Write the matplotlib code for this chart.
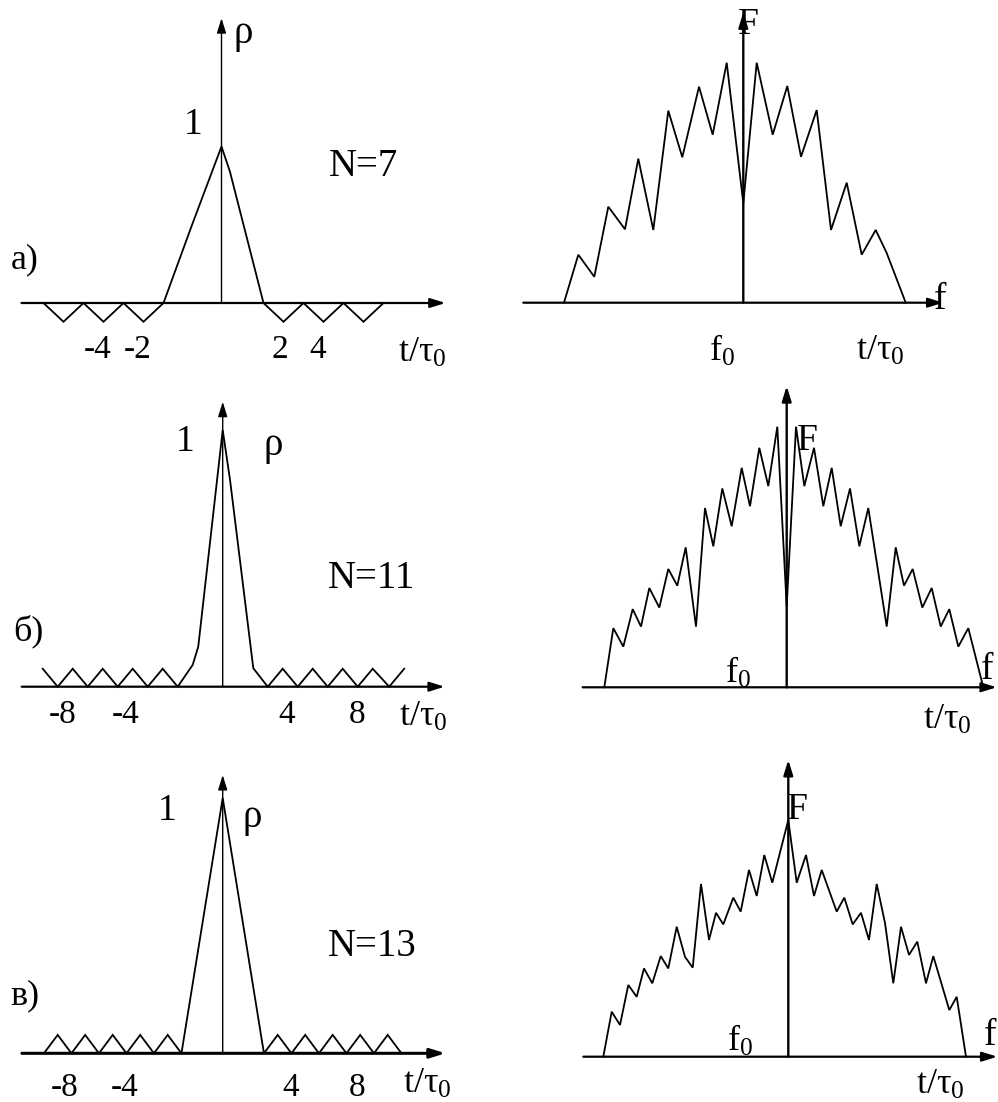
import matplotlib
matplotlib.use('Agg')
import matplotlib.pyplot as plt

plt.rcParams['font.family'] = ['Liberation Serif', 'DejaVu Serif']
plt.rcParams['mathtext.fontset'] = 'custom'
plt.rcParams['mathtext.rm'] = 'Liberation Serif'
plt.rcParams['mathtext.it'] = 'Liberation Serif:italic'

# ---------------- data ----------------
# autocorrelation functions rho(t/tau0)
acf7_t = [-8.9, -7.9, -6.9, -5.9, -4.9, -3.9, -2.9, -1.5, 0.0, 0.42, 2.1,
          3.1, 4.1, 5.1, 6.1, 7.1, 8.1]
acf7_rho = [0, -0.12, 0, -0.12, 0, -0.12, 0, 0.49, 1.0, 0.84, 0,
            -0.12, 0, -0.12, 0, -0.12, 0]
acf7_tick_pos = [-6.2, -4.2, 2.9, 4.8]
acf7_tick_lab = ['-4', '-2', '2', '4']

acf11_t = [-12, -11, -10, -9, -8, -7, -6, -5, -4, -3, -2, -1.63, 0, 0.49, 2.04,
           3, 4, 5, 6, 7, 8, 9, 10, 11.1, 12.1]
acf11_rho = [0.07, 0, 0.07, 0, 0.07, 0, 0.07, 0, 0.07, 0, 0.085, 0.156, 1.0, 0.805, 0.072,
             0, 0.07, 0, 0.07, 0, 0.07, 0, 0.07, 0, 0.07]
acf11_tick_pos = [-10.65, -6.5, 4.29, 8.95]
acf11_tick_lab = ['-8', '-4', '4', '8']

acf13_t = [-13, -12, -11, -10, -9, -8, -7, -6, -5, -4, -3, 0,
           3, 4, 5, 6, 7, 8, 9, 10, 11, 12, 13]
acf13_rho = [0, 0.072, 0, 0.072, 0, 0.072, 0, 0.072, 0, 0.072, 0, 1.0,
             0, 0.072, 0, 0.072, 0, 0.072, 0, 0.072, 0, 0.072, 0]
acf13_tick_pos = [-11.47, -7.1, 4.97, 9.76]
acf13_tick_lab = ['-8', '-4', '4', '8']

# spectra F(f - f0)
spec7_f = [-17.93, -16.5, -14.9, -13.5, -11.83, -10.5, -9.0, -7.5, -6.1, -4.43, -3.06, -1.66,
           0.0, 1.34, 2.94, 4.4, 5.77, 7.34, 8.77, 10.34, 11.84, 13.24, 14.34, 16.24]
spec7_F = [0, 0.2, 0.108, 0.4, 0.306, 0.6, 0.303, 0.8, 0.606, 0.9, 0.7, 1.0,
           0.414, 1.0, 0.7, 0.903, 0.608, 0.803, 0.303, 0.5, 0.2, 0.303, 0.207, 0]

spec11_f = [-18.24, -17.34, -16.34, -15.4, -14.57, -13.74, -12.74, -11.84, -10.94, -10.1,
            -9.07, -8.17, -7.34, -6.44, -5.5, -4.5, -3.67, -2.74, -1.84, -0.94,
            0.0, 0.93, 1.76, 2.73, 3.66, 4.5, 5.4, 6.33, 7.26, 8.16,
            10.0, 10.9, 11.73, 12.6, 13.56, 14.5, 15.4, 16.26, 17.16, 18.16, 19.66]
spec11_F = [0, 0.227, 0.156, 0.3, 0.233, 0.381, 0.306, 0.454, 0.39, 0.537,
            0.233, 0.688, 0.541, 0.763, 0.618, 0.842, 0.695, 0.919, 0.772, 1.0,
            0.31, 1.0, 0.772, 0.919, 0.695, 0.842, 0.618, 0.763, 0.541, 0.688,
            0.233, 0.537, 0.39, 0.454, 0.306, 0.381, 0.233, 0.3, 0.156, 0.227, 0]

spec13_f = [-18.5, -17.66, -16.83, -16.0, -15.16, -14.43, -13.6, -12.76, -12.0, -11.16,
            -10.33, -9.56, -8.73, -7.93, -7.23, -6.5, -5.5, -4.76, -3.93, -3.16,
            -2.4, -1.6, 0.0, 0.84, 1.77, 2.57, 3.34, 4.84, 5.6, 6.44,
            7.27, 8.07, 8.84, 9.67, 10.5, 11.27, 12.07, 12.9, 13.77, 14.5,
            16.1, 16.84, 17.77]
spec13_F = [0, 0.19, 0.134, 0.303, 0.253, 0.373, 0.31, 0.425, 0.373, 0.549,
            0.422, 0.376, 0.73, 0.493, 0.608, 0.559, 0.672, 0.613, 0.789, 0.679,
            0.852, 0.735, 1.0, 0.735, 0.852, 0.679, 0.789, 0.613, 0.672, 0.559,
            0.608, 0.493, 0.73, 0.565, 0.31, 0.549, 0.43, 0.486, 0.31, 0.425,
            0.197, 0.253, 0]

N_labels = ['N=7', 'N=11', 'N=13']
panel_letters = ['а)', 'б)', 'в)']

# ---------------- layout ----------------
W, H = 998, 1102
fig = plt.figure(figsize=(W / 100, H / 100), dpi=100)
fig.patch.set_facecolor('white')

DY = 3  # visual centring correction (pixels)


def make_ax(L, T, R, B, ox, oy, sx, sy):
    ax = fig.add_axes([L / W, 1 - B / H, (R - L) / W, (B - T) / H])
    ax.set_xlim((L - ox) / sx, (R - ox) / sx)
    ax.set_ylim((oy - B) / sy, (oy - T) / sy)
    ax.axis('off')
    return ax


def ptext(x, y, s, size, **kw):
    fig.text(x / W, 1 - (y + DY) / H, s, ha='center', va='center', fontsize=size,
             color='black', **kw)


def arrow(ax, x0, y0, x1, y1, lw):
    ax.annotate('', xy=(x1, y1), xytext=(x0, y0),
                arrowprops=dict(arrowstyle='-|>,head_length=0.9,head_width=0.28',
                                lw=lw, color='black', shrinkA=0, shrinkB=0),
                annotation_clip=False)


TAU = r'$\mathrm{t/\tau_0}$'
F0 = r'$\mathrm{f_0}$'

# left column : autocorrelation
left_specs = [
    dict(box=(0, 0, 470, 372), o=(221.5, 303), s=(20, 156.5), xr=(-10.0, 11.2), ytip=1.82, lw=1.6,
         t=acf7_t, r=acf7_rho, tp=acf7_tick_pos, tl=acf7_tick_lab, tick_y=347,
         one=(193, 122), rho=(243, 30), N=(363, 163), let=(25, 257), tau=(422, 350)),
    dict(box=(0, 380, 470, 740), o=(222.7, 686.7), s=(15, 256.7), xr=(-13.4, 14.8), ytip=1.11, lw=1.6,
         t=acf11_t, r=acf11_rho, tp=acf11_tick_pos, tl=acf11_tick_lab, tick_y=712,
         one=(185, 439), rho=(273, 443), N=(372, 576), let=(28, 628), tau=(423, 714)),
    dict(box=(0, 745, 470, 1102), o=(222.7, 1053.3), s=(13.75, 255.3), xr=(-14.6, 16.2), ytip=1.09, lw=2.2,
         t=acf13_t, r=acf13_rho, tp=acf13_tick_pos, tl=acf13_tick_lab, tick_y=1085,
         one=(167, 808), rho=(252, 815), N=(372, 943), let=(25, 993), tau=(427, 1081)),
]

for i, sp in enumerate(left_specs):
    L, T, R, B = sp['box']
    ox, oy = sp['o']
    sx, sy = sp['s']
    ax = make_ax(L, T, R, B, ox, oy, sx, sy)
    arrow(ax, sp['xr'][0], 0, sp['xr'][1], 0, sp['lw'])
    arrow(ax, 0, 0, 0, sp['ytip'], 1.0)
    ax.plot(sp['t'], sp['r'], color='black', lw=1.3, solid_joinstyle='miter', clip_on=False)
    for p, lab in zip(sp['tp'], sp['tl']):
        ax.text(p, (oy - sp['tick_y'] - DY) / sy, lab, ha='center', va='center', fontsize=24)
    ptext(*sp['one'], '1', 27)
    ptext(*sp['rho'], 'ρ', 28)
    ptext(*sp['N'], N_labels[i], 28)
    ptext(*sp['let'], panel_letters[i], 26)
    ptext(*sp['tau'], TAU, 26)

# right column : spectra
right_specs = [
    dict(box=(500, 0, 998, 372), o=(743.3, 302.7), s=(10, 240), xr=(-22.0, 20.0), ytip=1.21,
         f=spec7_f, F=spec7_F, Fl=(748, 22), fl=(940, 297), f0=(722, 348), tau=(880, 348)),
    dict(box=(500, 380, 998, 740), o=(786.7, 687.3), s=(10, 260.6), xr=(-20.4, 21.0), ytip=1.156,
         f=spec11_f, F=spec11_F, Fl=(807, 438), fl=(987, 667), f0=(738, 670), tau=(947, 717)),
    dict(box=(500, 745, 998, 1102), o=(788.3, 1056.7), s=(10, 236.7), xr=(-20.5, 20.9), ytip=1.254,
         f=spec13_f, F=spec13_F, Fl=(797, 807), fl=(990, 1033), f0=(740, 1038), tau=(940, 1082)),
]

for sp in right_specs:
    L, T, R, B = sp['box']
    ox, oy = sp['o']
    sx, sy = sp['s']
    ax = make_ax(L, T, R, B, ox, oy, sx, sy)
    arrow(ax, sp['xr'][0], 0, sp['xr'][1], 0, 1.6)
    arrow(ax, 0, 0, 0, sp['ytip'], 1.7)
    ax.plot(sp['f'], sp['F'], color='black', lw=1.3, solid_joinstyle='miter', clip_on=False)
    ptext(*sp['Fl'], 'F', 27)
    ptext(*sp['fl'], 'f', 27)
    ptext(*sp['f0'], F0, 26)
    ptext(*sp['tau'], TAU, 26)

fig.savefig('out.png', dpi=100, facecolor='white')
